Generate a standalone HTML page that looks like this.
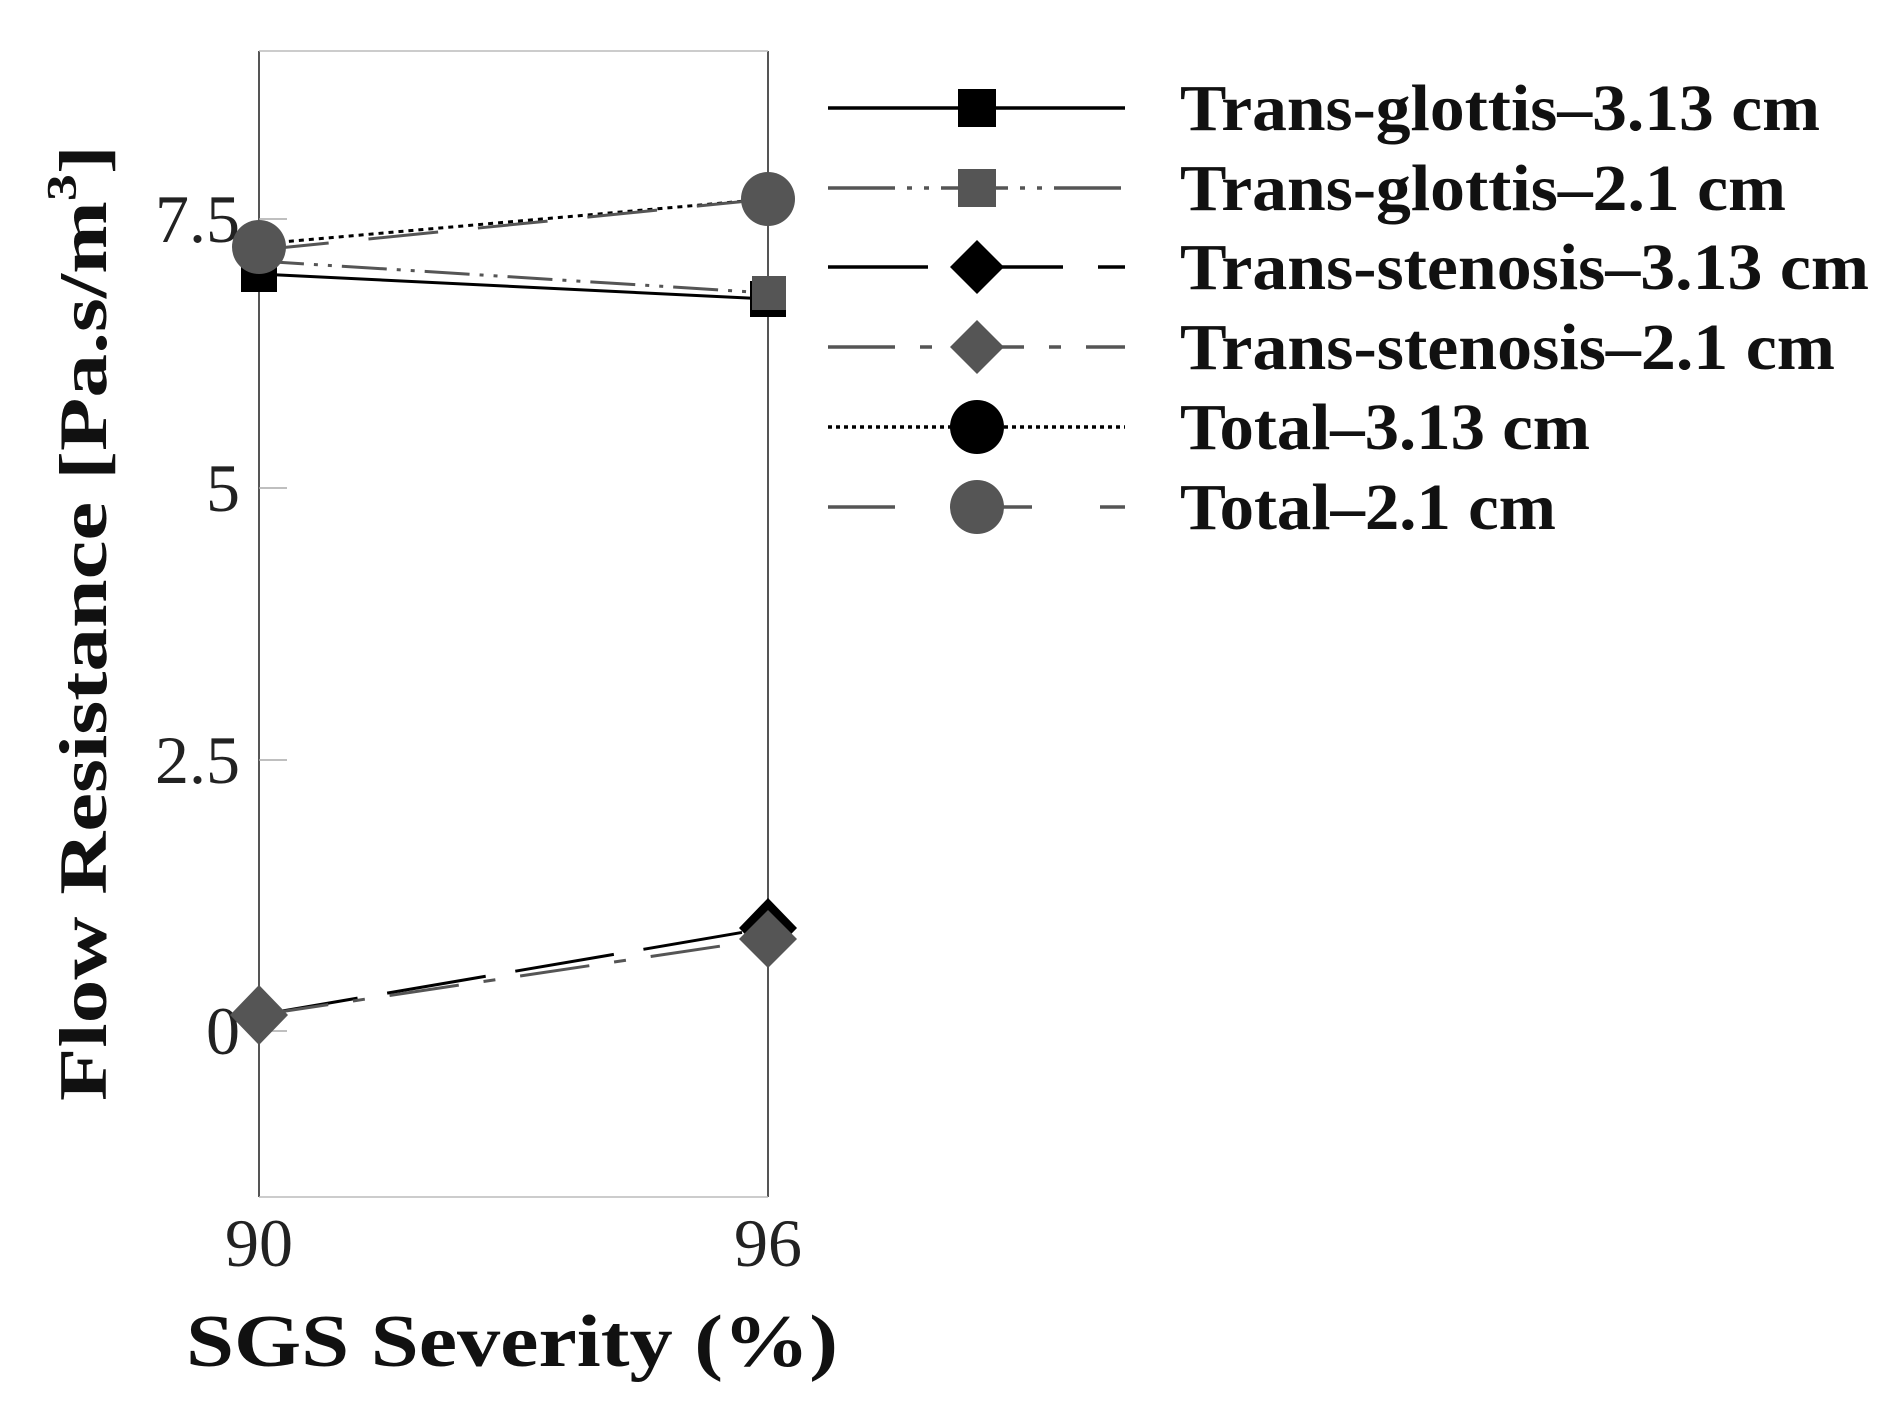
<!DOCTYPE html>
<html><head><meta charset="utf-8"><style>html,body{margin:0;padding:0;background:#fff}svg{display:block}</style></head>
<body>
<svg width="1887" height="1414" viewBox="0 0 1887 1414" xmlns="http://www.w3.org/2000/svg">
<rect width="1887" height="1414" fill="#fff"/>
<line x1="259" y1="51" x2="259" y2="1197" stroke="#555" stroke-width="2"/>
<line x1="768" y1="51" x2="768" y2="1197" stroke="#555" stroke-width="2"/>
<line x1="259" y1="51" x2="768" y2="51" stroke="#bbb" stroke-width="1.5"/>
<line x1="259" y1="1197" x2="768" y2="1197" stroke="#bbb" stroke-width="1.5"/>
<g stroke="#aaa" stroke-width="1.5">
<line x1="259" y1="219" x2="287" y2="219"/>
<line x1="259" y1="488" x2="287" y2="488"/>
<line x1="259" y1="760" x2="287" y2="760"/>
<line x1="259" y1="1031" x2="287" y2="1031"/>
</g>
<g font-family="Liberation Serif, serif" font-size="68" fill="#222" text-anchor="end">
<text x="240" y="242">7.5</text>
<text x="240" y="511">5</text>
<text x="240" y="783">2.5</text>
<text x="240" y="1054">0</text>
</g>
<g font-family="Liberation Serif, serif" font-size="68" fill="#222" text-anchor="middle">
<text x="259" y="1266">90</text>
<text x="768" y="1266">96</text>
</g>
<text x="186" y="1366" font-family="Liberation Serif, serif" font-weight="bold" font-size="74" fill="#111" textLength="652" lengthAdjust="spacingAndGlyphs">SGS Severity (%)</text>
<text transform="translate(106,1101) rotate(-90)" font-family="Liberation Serif, serif" font-weight="bold" font-size="68" fill="#111" textLength="956" lengthAdjust="spacingAndGlyphs">Flow Resistance [Pa.s/m<tspan font-size="42" dy="-30">3</tspan><tspan dy="30">]</tspan></text>

<line x1="259" y1="274" x2="768" y2="299" stroke="#000" stroke-width="3"/>
<line x1="259" y1="261" x2="768" y2="293" stroke="#555" stroke-width="3" stroke-dasharray="45,10,4,10,4,10"/>
<line x1="259" y1="1015" x2="768" y2="928" stroke="#000" stroke-width="3" stroke-dasharray="100,30"/>
<line x1="259" y1="1015" x2="768" y2="939" stroke="#555" stroke-width="3" stroke-dasharray="70,25,12,25"/>
<line x1="259" y1="244" x2="768" y2="199" stroke="#000" stroke-width="3" stroke-dasharray="5,5"/>
<line x1="259" y1="250" x2="768" y2="199" stroke="#555" stroke-width="3" stroke-dasharray="70,40"/>
<rect x="241" y="256" width="36" height="36" fill="#000"/>
<rect x="750" y="281" width="36" height="36" fill="#000"/>
<rect x="752" y="276" width="34" height="34" fill="#555"/>
<polygon points="768,898 797,928 768,958 739,928" fill="#000"/>
<polygon points="259,985 288,1015 259,1045 230,1015" fill="#555"/>
<polygon points="768,910 797,939 768,968 739,939" fill="#555"/>
<circle cx="259" cy="247" r="27" fill="#555"/>
<circle cx="768" cy="199" r="27" fill="#555"/>

<g stroke-width="3.5">
<line x1="828" y1="108" x2="1125" y2="108" stroke="#000"/>
<line x1="828" y1="188" x2="1125" y2="188" stroke="#555" stroke-dasharray="67,12,5,12,5,12"/>
<line x1="828" y1="267" x2="1125" y2="267" stroke="#000" stroke-dasharray="100,35"/>
<line x1="828" y1="347" x2="1125" y2="347" stroke="#555" stroke-dasharray="67,25,12,25"/>
<line x1="828" y1="427" x2="1125" y2="427" stroke="#000" stroke-dasharray="4,4"/>
<line x1="828" y1="507" x2="895" y2="507" stroke="#555"/>
<line x1="990" y1="507" x2="1032" y2="507" stroke="#555"/>
<line x1="1100" y1="507" x2="1125" y2="507" stroke="#555"/>
</g>
<rect x="958" y="89" width="38" height="38" fill="#000"/>
<rect x="958" y="169" width="38" height="38" fill="#555"/>
<polygon points="977,240 1004,267 977,294 950,267" fill="#000"/>
<polygon points="977,320 1004,347 977,374 950,347" fill="#555"/>
<circle cx="977" cy="427" r="27" fill="#000"/>
<circle cx="977" cy="507" r="27" fill="#555"/>
<g font-family="Liberation Serif, serif" font-weight="bold" font-size="66" fill="#111">
<text x="1180" y="130" textLength="640" lengthAdjust="spacingAndGlyphs">Trans-glottis–3.13 cm</text>
<text x="1180" y="210" textLength="606" lengthAdjust="spacingAndGlyphs">Trans-glottis–2.1 cm</text>
<text x="1180" y="289" textLength="689" lengthAdjust="spacingAndGlyphs">Trans-stenosis–3.13 cm</text>
<text x="1180" y="369" textLength="655" lengthAdjust="spacingAndGlyphs">Trans-stenosis–2.1 cm</text>
<text x="1180" y="449" textLength="410" lengthAdjust="spacingAndGlyphs">Total–3.13 cm</text>
<text x="1180" y="529" textLength="376" lengthAdjust="spacingAndGlyphs">Total–2.1 cm</text>
</g>
</svg>
</body></html>
